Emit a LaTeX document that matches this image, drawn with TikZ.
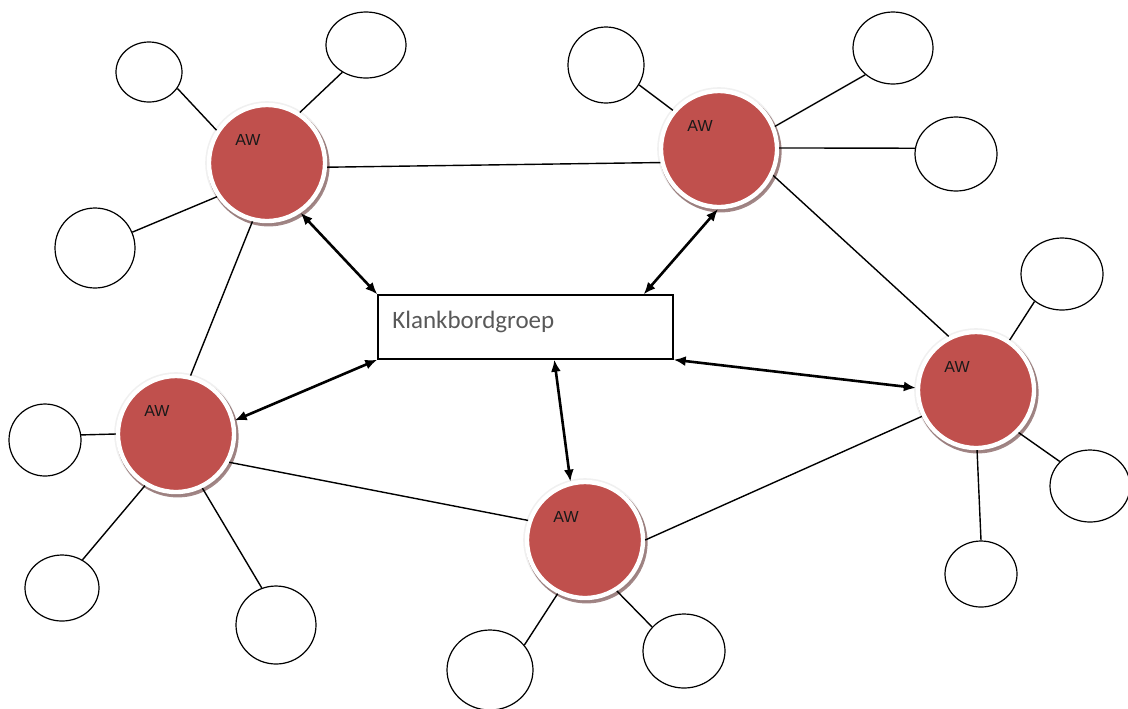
\documentclass[tikz,border=0pt]{standalone}
\usepackage{fontspec}
\setmainfont{Liberation Sans}
\newfontfamily\carlito{Carlito}
\usepackage{xcolor}
\usetikzlibrary{shapes.geometric,arrows.meta,shadows,calc}
\definecolor{awred}{HTML}{C0504D}
\definecolor{boxtext}{HTML}{595959}

\begin{document}
\begin{tikzpicture}[
    x=0.5pt, y=-0.5pt,
    aw/.style={
        circle, inner sep=0pt, minimum size=58pt,
        fill=awred, draw=white, line width=2.2pt,
        preaction={draw=gray!12, line width=3.8pt},
        drop shadow={shadow xshift=0.8pt, shadow yshift=-1.2pt,
            shadow scale=1.05, fill=awred!45!black, opacity=0.55},
        label={[awtext, xshift=-9.5pt, yshift=11.5pt]center:AW}
    },
    awtext/.style={font=\fontsize{8}{9.5}\selectfont, text=black!90, inner sep=0pt},
    member/.style={ellipse, draw, line width=0.6pt, fill=white, inner sep=0pt},
    groepbox/.style={draw, line width=0.7pt, inner sep=0pt,
        minimum width=147.5pt, minimum height=32pt},
    link/.style={line width=0.7pt},
    arrow/.style={{Latex[length=6pt,width=5pt]}-{Latex[length=6pt,width=5pt]},
        line width=1.3pt}
]
\fill[white] (0,0) rectangle (1128,708);
\useasboundingbox (0,0) rectangle (1128,708);

% werkgroepen
\node[aw] (awnw) at (267,163) {};
\node[aw] (awne) at (719,149) {};
\node[aw] (awe) at (976,390) {};
\node[aw] (awsw) at (176,434) {};
\node[aw] (aws) at (585,540) {};

% klankbordgroep
\node[groepbox] (groep) at (525.5,327) {};
\node[anchor=base west, inner sep=0pt, text=boxtext,
    font=\carlito\fontsize{12.5}{15}\selectfont] (groeptext) at (392,328) {Klankbordgroep};

% leden
\node[member, minimum width=33pt, minimum height=30pt] (nwa) at (149,72) {};
\node[member, minimum width=40pt, minimum height=33pt] (nwb) at (366,45) {};
\node[member, minimum width=40pt, minimum height=40pt] (nwc) at (95,248) {};
\node[member, minimum width=38pt, minimum height=38pt] (nea) at (606,65) {};
\node[member, minimum width=40pt, minimum height=36pt] (neb) at (893,48) {};
\node[member, minimum width=41pt, minimum height=37pt] (nec) at (956,154) {};
\node[member, minimum width=41pt, minimum height=36pt] (ea) at (1062,274) {};
\node[member, minimum width=40pt, minimum height=36pt] (eb) at (1090,486) {};
\node[member, minimum width=36pt, minimum height=33pt] (ec) at (981,574) {};
\node[member, minimum width=36pt, minimum height=36pt] (swa) at (45,440) {};
\node[member, minimum width=37pt, minimum height=33pt] (swb) at (62,588) {};
\node[member, minimum width=40pt, minimum height=39pt] (swc) at (276,625) {};
\node[member, minimum width=43pt, minimum height=40pt] (sa) at (490,670) {};
\node[member, minimum width=41pt, minimum height=37pt] (sb) at (684,651) {};

% verbindingen
\draw[link] (nwa.-30) -- (awnw.147);
\draw[link] (nwb.229) -- (awnw.57);
\draw[link] (nwc.23) -- (awnw.214);
\draw[link] (awnw.-4) -- (awne.193);
\draw[link] (awnw.256) -- (awsw.76);
\draw[link] (nea.-31) -- (awne.140);
\draw[link] (neb.224) -- (awne.22);
\draw[link] (nec.172) -- (awne.1);
\draw[link] (awne.-26) -- (awe.117);
\draw[link] (ea.225) -- (awe.56);
\draw[link] (eb.141) -- (awe.-45);
\draw[link] (ec.90) -- (awe.-89);
\draw[link] (awe.206) -- (aws.0);
\draw[link] (swa.8) -- (awsw.180);
\draw[link] (swb.54) -- (awsw.239);
\draw[link] (swc.111) -- (awsw.-64);
\draw[link] (awsw.-28) -- (aws.161);
\draw[link] (sa.36) -- (aws.243);
\draw[link] (sb.143) -- (aws.-58);

% terugkoppeling
\draw[arrow] (awnw.-56) -- (groep.north west);
\draw[arrow] (awne.-91) -- ($(groep.north east)+(-30,0)$);
\draw[arrow] (groep.south east) -- (awe.178);
\draw[arrow] (awsw.13) -- (groep.south west);
\draw[arrow] ($(groep.south west)+(177,0)$) -- (aws.104);

\end{tikzpicture}
\end{document}
